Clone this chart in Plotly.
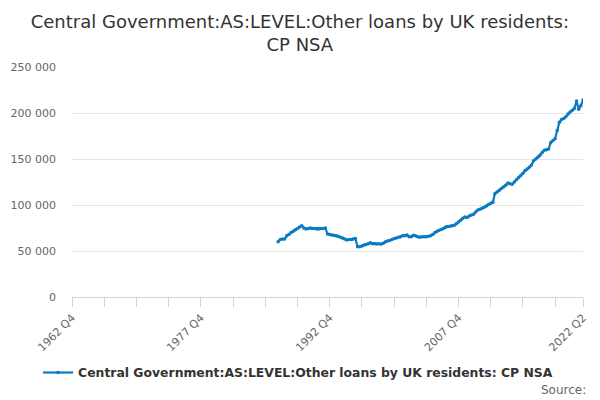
import plotly.graph_objects as go

# quarterly category labels for the whole axis, 1962 Q4 .. 2022 Q2
quarters = ["1962 Q4"] + [f"{y} Q{q}" for y in range(1963, 2023) for q in range(1, 5)]
quarters = quarters[:quarters.index("2022 Q2") + 1]

series_name = "Central Government:AS:LEVEL:Other loans by UK residents: CP NSA"
first_quarter = "1986 Q4"

# values in GBP million, one per quarter from 1986 Q4
values_k = [
    60, 62.5, 63, 63, 66.5, 68, 70, 71.5, 73, 74.5,
    76, 77.5, 75, 74, 74.5, 75, 74.5, 74.5, 74, 74,
    74.5, 74.5, 75, 68.5, 68, 67.5, 67, 66.5, 66, 65,
    64, 63, 62, 62.5, 62.5, 63, 63.5, 54.5, 54.5, 55.5,
    56.5, 57, 58, 59, 58, 58, 57.5, 58, 57.5, 58.5,
    60, 61, 61.5, 62.5, 63.5, 64, 65, 65.5, 66.5, 66.5,
    67.5, 65.5, 65.5, 67, 66.5, 65.5, 65, 65.5, 65.5, 65.5,
    66, 66.5, 68, 70, 71.5, 72.5, 73.5, 74.5, 76, 76.5,
    77, 77.5, 78, 79.5, 81.5, 83.5, 85.5, 87, 86.5, 88,
    89, 90, 92.5, 94.5, 95.5, 96.5, 97.5, 99, 100.5, 102,
    103, 112.5, 114, 116, 118, 119.5, 121.5, 124, 123, 122.5,
    125, 127.5, 130, 132, 134.5, 137.5, 139, 141, 143.5, 148,
    150, 152, 154, 157, 159.5, 160, 161, 168, 170, 172,
    181, 190, 193, 194, 196, 199, 201, 203, 205, 213,
    204, 208, 214,
]
values = [v * 1000 for v in values_k]

start = quarters.index(first_quarter)
x_vals = quarters[start:start + len(values)]

# tick marks every 15 quarters, labels every 60 plus the last quarter
tick_idx = list(range(0, len(quarters) - 1, 15)) + [len(quarters) - 1]
tick_vals = [quarters[i] for i in tick_idx]
tick_text = [quarters[i] if (i % 60 == 0 or i == len(quarters) - 1) else "" for i in tick_idx]

fig = go.Figure()
fig.add_trace(go.Scatter(
    x=x_vals,
    y=values,
    name=series_name,
    mode="lines+markers",
    line=dict(color="#0a7bc1", width=2.2),
    marker=dict(color="#0a7bc1", size=3.5),
))

# page body has an 8px margin, so the figure is sized to the visible area
fig.update_layout(
    width=592,
    height=392,
    font=dict(family="DejaVu Sans", color="#666666"),
    paper_bgcolor="white",
    plot_bgcolor="white",
    separators=". ",
    margin=dict(l=64, r=17, t=59, b=103),
    title=dict(
        text="Central Government:AS:LEVEL:Other loans by UK residents:<br>CP NSA",
        x=0.493, xanchor="center",
        yref="container", y=0.949, yanchor="middle",
        font=dict(size=18, color="#333333"),
    ),
    showlegend=True,
    legend=dict(
        orientation="h",
        xref="container", x=0.49, xanchor="center",
        yref="container", y=0.069, yanchor="middle",
        font=dict(size=12.4, color="#333333", weight="bold"),
    ),
    xaxis=dict(
        type="category",
        categoryorder="array",
        categoryarray=quarters,
        range=[0, len(quarters) - 1],
        tickmode="array",
        tickvals=tick_vals,
        ticktext=tick_text,
        tickangle=-45,
        ticks="outside",
        ticklen=9,
        tickcolor="#ccd6eb",
        showline=True,
        linecolor="#ccd6eb",
        showgrid=False,
        zeroline=False,
        automargin=False,
        tickfont=dict(size=11, color="#666666"),
    ),
    yaxis=dict(
        range=[0, 250000],
        tickvals=[0, 50000, 100000, 150000, 200000, 250000],
        tickformat=",d",
        showgrid=True,
        gridcolor="#e6e6e6",
        zeroline=False,
        showline=False,
        automargin=False,
        tickfont=dict(size=11, color="#666666"),
        ticklabelstandoff=15,
    ),
    annotations=[dict(
        text="Source:",
        xref="paper", yref="paper",
        x=1.01, y=-0.404,
        xanchor="right", yanchor="middle",
        showarrow=False,
        font=dict(size=12, color="#666666"),
    )],
)

fig.write_html("out.html")
